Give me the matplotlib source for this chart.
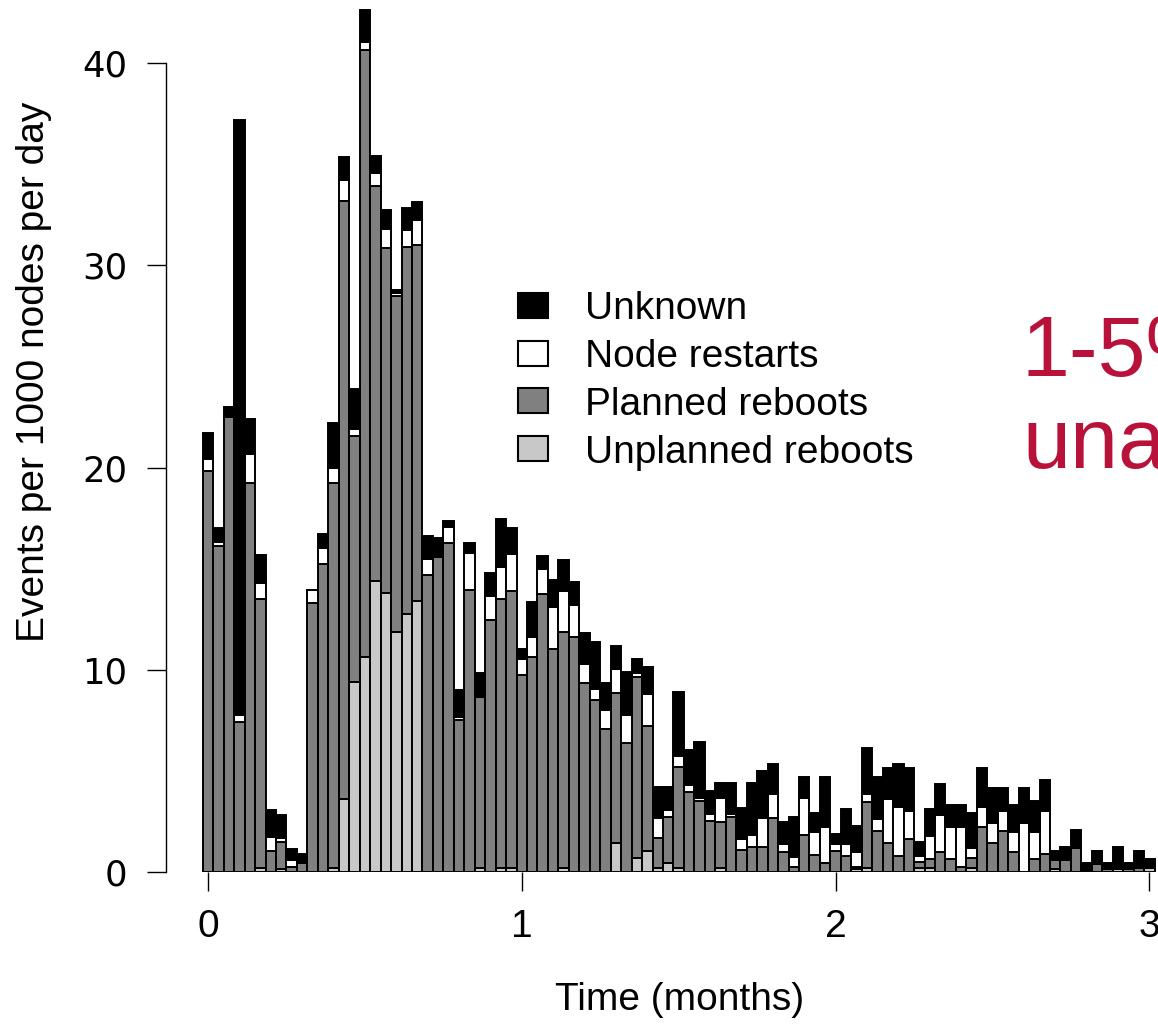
import matplotlib
matplotlib.use("Agg")
import matplotlib.pyplot as plt
import numpy as np
from matplotlib.patches import Rectangle

# ---- data (events per 1000 nodes per day, one bar per day) ----
unplanned = [0, 0, 0, 0, 0, 0.2, 0, 0.15, 0, 0,
             0, 0, 0.2, 3.59, 9.41, 10.65, 14.39, 13.78, 11.88, 12.74,
             13.4, 0, 0, 0, 0, 0, 0.2, 0, 0.2, 0.2,
             0, 0, 0, 0, 0.2, 0, 0, 0, 0, 1.45,
             0, 0.68, 1.05, 0.2, 0.43, 0.2, 0, 0, 0, 0.2,
             0, 0, 0, 0, 0, 0, 0, 0, 0, 0,
             0, 0, 0.15, 0.2, 0, 0, 0, 0, 0.2, 0.2,
             0, 0, 0, 0.2, 0, 0, 0, 0, 0, 0,
             0, 0.15, 0, 0, 0, 0, 0, 0.15, 0, 0,
             0.2]
planned = [19.84, 16.13, 22.5, 7.43, 19.22, 13.28, 1.05, 1.35, 0.26, 0.43,
           13.29, 15.21, 19.02, 29.61, 12.14, 29.99, 19.51, 17.06, 16.62, 18.18,
           17.59, 14.68, 15.59, 16.28, 7.52, 13.94, 8.47, 12.46, 13.3, 13.71,
           9.74, 10.62, 13.73, 11.03, 11.68, 11.63, 9.33, 8.5, 7.06, 7.42,
           6.36, 8.98, 6.17, 1.47, 2.27, 4.98, 3.94, 3.51, 2.54, 2.29,
           2.73, 1.09, 1.25, 1.25, 2.65, 1.0, 0.23, 1.83, 0.84, 0.43,
           1.04, 0.81, 0.11, 3.28, 2.04, 1.42, 0.81, 1.63, 0.31, 0.44,
           1.0, 0.64, 0.23, 0.48, 2.24, 1.45, 2.04, 1.0, 0, 0.64,
           0.89, 0.44, 0.59, 1.17, 0, 0.38, 0.15, 0, 0.15, 0.2,
           0]
restarts = [0.56, 0.2, 0, 0.33, 1.43, 0.82, 0.67, 0.17, 0.33, 0,
            0.65, 0.79, 0.77, 1.0, 0.35, 0.41, 0.65, 0.96, 0.15, 0.82,
            1.25, 0.8, 0, 0.79, 0.16, 1.82, 0, 1.2, 1.6, 1.81,
            0.79, 0.98, 1.24, 2.06, 2.03, 1.57, 0.95, 0.53, 0.95, 1.17,
            1.4, 0.16, 1.58, 0.99, 0.37, 0.56, 0.36, 0.16, 0.33, 1.18,
            0.14, 0.53, 0.58, 1.41, 1.19, 0.38, 0.53, 1.81, 1.15, 1.78,
            0.34, 0.57, 0.71, 0.36, 0.56, 2.19, 2.39, 1.39, 0.28, 1.16,
            1.82, 1.57, 1.98, 0.49, 0.99, 0.96, 0.98, 0.99, 2.41, 1.35,
            2.13, 0, 0, 0, 0, 0, 0, 0, 0, 0,
            0]
unknown = [1.3, 0.7, 0.5, 29.4, 1.75, 1.37, 1.35, 1.15, 0.53, 0.46,
           0, 0.71, 2.19, 1.13, 2.0, 1.55, 0.87, 0.93, 0.13, 1.11,
           0.9, 1.15, 0.91, 0.28, 1.32, 0.49, 1.15, 1.14, 2.35, 1.3,
           0.5, 1.73, 0.67, 1.35, 1.52, 1.12, 1.52, 2.36, 1.32, 1.13,
           2.14, 0.7, 1.32, 1.53, 1.12, 3.14, 1.73, 2.74, 1.13, 0.72,
           1.52, 1.53, 2.56, 2.33, 1.5, 1.11, 1.94, 1.07, 0.91, 2.5,
           0.5, 1.72, 1.32, 2.31, 2.11, 1.52, 2.14, 2.11, 0.68, 1.3,
           1.52, 1.1, 1.1, 1.73, 1.9, 1.73, 1.12, 1.32, 1.73, 1.54,
           1.53, 0.46, 0.66, 0.91, 0.46, 0.67, 0.31, 1.1, 0.31, 0.85,
           0.44]

series_names = ["Unknown", "Node restarts", "Planned reboots", "Unplanned reboots"]
x_ticks = [0, 1, 2, 3]
y_ticks = [0, 10, 20, 30, 40]
days_per_month = 30

# ---- figure ----
W, H = 1158, 1026
fig = plt.figure(figsize=(W / 100, H / 100), dpi=100)
ax_left_px, ax_bottom_px, ax_top_px = 165.7, 872, 0
ax = fig.add_axes([ax_left_px / W, (H - ax_bottom_px) / H, 1 - ax_left_px / W,
                   (ax_bottom_px - ax_top_px) / H])

px_per_month = 313.8
x0_px = 208
ax.set_xlim((ax_left_px - x0_px) / px_per_month, (W - x0_px) / px_per_month)
px_per_unit = (872 - 63) / 40
ax.set_ylim(0, ax_bottom_px / px_per_unit)

n = len(unknown)
months = np.arange(n) / days_per_month
w = 1 / days_per_month
U = np.array(unplanned)
P = np.array(planned)
R = np.array(restarts)
K = np.array(unknown)

colors = {"Unplanned reboots": "#c8c8c8", "Planned reboots": "#808080",
          "Node restarts": "#ffffff", "Unknown": "#000000"}
lw = 1.4
ax.bar(months, U, width=w, bottom=0, color=colors["Unplanned reboots"],
       edgecolor="black", linewidth=lw)
ax.bar(months, P, width=w, bottom=U, color=colors["Planned reboots"],
       edgecolor="black", linewidth=lw)
ax.bar(months, R, width=w, bottom=U + P, color=colors["Node restarts"],
       edgecolor="black", linewidth=lw)
ax.bar(months, K, width=w, bottom=U + P + R, color=colors["Unknown"],
       edgecolor="black", linewidth=lw)

# axes styling (R-like)
for s in ["top", "right", "bottom"]:
    ax.spines[s].set_visible(False)
ax.spines["left"].set_bounds(0, 40)
ax.spines["left"].set_linewidth(1.0)
ax.set_yticks(y_ticks)
ax.set_yticklabels([str(v) for v in y_ticks], fontfamily="DejaVu Sans", fontsize=25.5)
ax.set_xticks(x_ticks)
ax.set_xticklabels([str(v) for v in x_ticks], fontfamily="Liberation Sans", fontsize=28)
ax.tick_params(axis="y", direction="out", length=13.5, width=1.0, pad=14)
ax.tick_params(axis="x", direction="out", length=13.5, width=1.0, pad=13)
ax.patch.set_alpha(0)

# axis labels
fig.text(34 / W, 1 - 372 / H, "Events per 1000 nodes per day", rotation=90,
         ha="center", va="center", fontsize=28, family="Liberation Sans")
fig.text(680 / W, 1 - 1000 / H, "Time (months)", ha="center", va="center",
         fontsize=28, family="Liberation Sans")

# legend (manual, R-style)
leg_baselines = [319, 367, 415, 463]
leg_centers = [305.5, 354, 400.5, 448.7]
for name, yb, yc in zip(series_names, leg_baselines, leg_centers):
    fig.patches.append(Rectangle((518 / W, 1 - (yc + 12.5) / H), 30 / W, 25 / H,
                                 transform=fig.transFigure, facecolor=colors[name],
                                 edgecolor="black", linewidth=1.5))
    fig.text(585 / W, 1 - yb / H, name, ha="left", va="baseline", fontsize=28,
             family="Liberation Sans")

# red annotation (cut at right edge as in the slide)
red = "#b8123a"
fig.text(1022 / W, 1 - 376 / H, "1-5%", ha="left", va="baseline", fontsize=62,
         color=red, family="Liberation Sans")
fig.text(1022 / W, 1 - 468 / H, "unavailable", ha="left", va="baseline", fontsize=62,
         color=red, family="Liberation Sans")

fig.savefig("out.png", dpi=100)
